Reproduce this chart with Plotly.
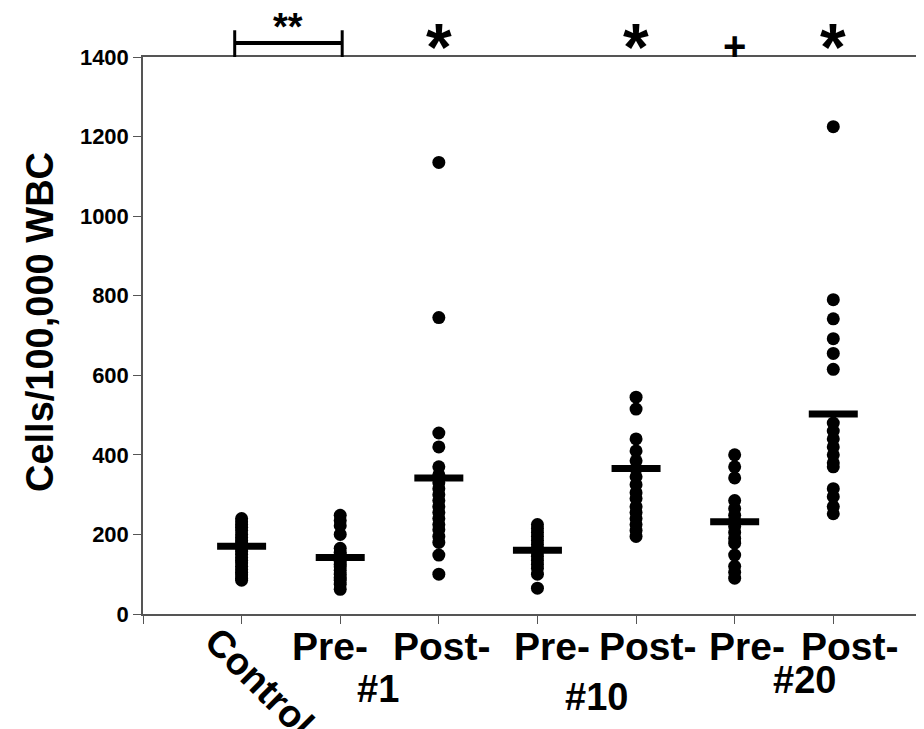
import plotly.graph_objects as go

# ---- data ----
groups = ["Control", "Pre- #1", "Post- #1", "Pre- #10", "Post- #10", "Pre- #20", "Post- #20"]
positions = [1, 2, 3, 4, 5, 6, 7]

control = [240, 232, 225, 218, 210, 200, 192, 185, 178, 170, 165, 158, 150, 142, 135, 128, 120, 112, 105, 98, 90, 85]
pre1 = [248, 235, 222, 200, 165, 155, 148, 140, 132, 125, 118, 110, 100, 92, 85, 75, 62]
post1 = [1135, 745, 455, 420, 370, 350, 330, 315, 300, 285, 270, 255, 240, 225, 212, 195, 180, 148, 100]
pre10 = [225, 215, 205, 195, 185, 175, 165, 155, 145, 135, 125, 115, 100, 65]
post10 = [545, 515, 440, 410, 385, 365, 345, 325, 305, 290, 270, 255, 240, 225, 210, 195]
pre20 = [400, 370, 342, 285, 265, 248, 235, 220, 205, 190, 178, 148, 120, 105, 90]
post20 = [1225, 790, 742, 692, 655, 615, 480, 460, 440, 420, 400, 380, 370, 315, 295, 270, 252]

series = [control, pre1, post1, pre10, post10, pre20, post20]
means = [170, 142, 342, 160, 366, 232, 503]

x_tickvals = [0, 1, 2, 3, 4, 5, 6, 7]
phase_labels = ["Pre-", "Post-", "Pre-", "Post-", "Pre-", "Post-"]
y_tickvals = [0, 200, 400, 600, 800, 1000, 1200, 1400]

sig_marks = [(3, "*"), (5, "*"), (6, "+"), (7, "*")]
group_labels = ["#1", "#10", "#20"]

FONT = "Liberation Sans, Arial, sans-serif"

# label placement (layout only)
phase_label_x = [1.90, 3.03, 4.15, 5.12, 6.13, 7.17]
group_label_xy = [(2.38, -0.135), (4.6, -0.149), (6.71, -0.118)]

fig = go.Figure()

for pos, vals in zip(positions, series):
    fig.add_trace(go.Scatter(
        x=[pos] * len(vals), y=vals, mode="markers",
        marker=dict(symbol="circle", size=13, color="black"),
        showlegend=False, hoverinfo="y",
    ))

fig.add_trace(go.Scatter(
    x=positions, y=means, mode="markers",
    marker=dict(symbol="line-ew", size=35, line=dict(color="black", width=7)),
    showlegend=False, hoverinfo="y",
))

# significance bracket between Control and Pre- #1
bracket_y = 1.025
fig.add_shape(type="line", xref="x", yref="paper", x0=0.93, x1=2.02, y0=bracket_y, y1=bracket_y,
              line=dict(color="black", width=4))
for xe in (0.93, 2.02):
    fig.add_shape(type="line", xref="x", yref="paper", x0=xe, x1=xe, y0=1.0, y1=1.048,
                  line=dict(color="black", width=3))
fig.add_annotation(x=1.475, y=1.054, xref="x", yref="paper", text="<b>**</b>", showarrow=False,
                   yanchor="middle", font=dict(family=FONT, size=38, color="black"))

for xp, sym in sig_marks:
    if sym == "*":
        fig.add_annotation(x=xp, y=1.018, xref="x", yref="paper", text="<b>*</b>", showarrow=False,
                           yanchor="middle", font=dict(family=FONT, size=66, color="black"))
    else:
        fig.add_annotation(x=xp, y=1.02, xref="x", yref="paper", text="<b>+</b>", showarrow=False,
                           yanchor="middle", font=dict(family=FONT, size=40, color="black"))

for xp, txt in zip(phase_label_x, phase_labels):
    fig.add_annotation(x=xp, y=-0.058, xref="x", yref="paper", text="<b>%s</b>" % txt, showarrow=False,
                       yanchor="middle", font=dict(family=FONT, size=39, color="black"))

for (xp, yp), txt in zip(group_label_xy, group_labels):
    fig.add_annotation(x=xp, y=yp, xref="x", yref="paper", text="<b>%s</b>" % txt, showarrow=False,
                       yanchor="middle", font=dict(family=FONT, size=38, color="black"))

fig.add_annotation(x=1.18, y=-0.122, xref="x", yref="paper", text="<b>%s</b>" % groups[0], showarrow=False,
                   textangle=45, yanchor="middle", font=dict(family=FONT, size=38, color="black"))

fig.add_annotation(x=-0.132, y=0.524, xref="paper", yref="paper", text="<b>Cells/100,000 WBC</b>",
                   showarrow=False, textangle=-90, xanchor="center", yanchor="middle",
                   font=dict(family=FONT, size=38, color="black"))

fig.update_layout(
    width=924, height=729,
    margin=dict(l=135, r=8, t=49, b=123),
    plot_bgcolor="white", paper_bgcolor="white",
    font=dict(family=FONT, color="black"),
    xaxis=dict(
        range=[0, 7.92], tickmode="array", tickvals=x_tickvals, ticktext=[""] * len(x_tickvals),
        ticks="outside", ticklen=8, tickcolor="#555", tickwidth=1.2,
        showline=True, linecolor="#555", linewidth=1.5, mirror=True,
        showgrid=False, zeroline=False, automargin=False,
    ),
    yaxis=dict(
        range=[0, 1400], tickmode="array", tickvals=y_tickvals,
        ticks="outside", ticklen=8, tickcolor="#555", tickwidth=1.2,
        showline=True, linecolor="#555", linewidth=1.5,
        showgrid=False, zeroline=False, automargin=False,
        tickfont=dict(family=FONT, size=22, color="black", weight="bold"),
    ),
)

fig.write_html("out.html")
